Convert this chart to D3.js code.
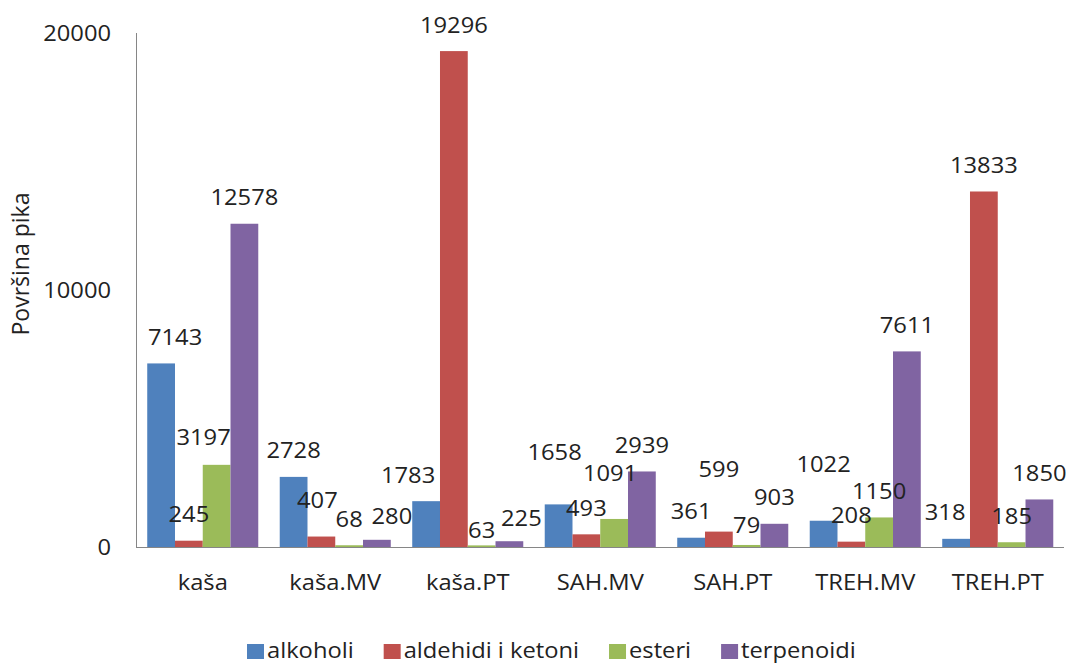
<!DOCTYPE html>
<html>
<head>
<meta charset="utf-8">
<script src="https://cdn.jsdelivr.net/npm/d3@7"></script>
<style>
  body { margin: 0; background: #fff; }
  svg text { font-family: "Open Sans", sans-serif; fill: #222; }
</style>
</head>
<body>
<svg id="chart" width="1070" height="665"></svg>
<script>
const categories = ["kaša", "kaša.MV", "kaša.PT", "SAH.MV", "SAH.PT", "TREH.MV", "TREH.PT"];
const seriesNames = ["alkoholi", "aldehidi i ketoni", "esteri", "terpenoidi"];
const alkoholi = [7143, 2728, 1783, 1658, 361, 1022, 318];
const aldehidiKetoni = [245, 407, 19296, 493, 599, 208, 13833];
const esteri = [3197, 68, 63, 1091, 79, 1150, 185];
const terpenoidi = [12578, 280, 225, 2939, 903, 7611, 1850];
const yTicks = [0, 10000, 20000];
const colors = ["#4F81BD", "#C0504D", "#9BBB59", "#8064A2"];

// hand placed data labels in the original (dx, dy in px)
const labelNudge = {
  "kaša|alkoholi": [14, 0], "kaša|esteri": [-13, -1],
  "kaša.MV|aldehidi i ketoni": [-4, -10], "kaša.MV|terpenoidi": [15, 3],
  "kaša.PT|alkoholi": [-18, 0], "kaša.PT|esteri": [0, 11], "kaša.PT|terpenoidi": [12, 3],
  "SAH.MV|alkoholi": [-4, -26], "SAH.MV|esteri": [-4, -19],
  "SAH.PT|aldehidi i ketoni": [0, -36], "SAH.PT|esteri": [0, 7],
  "TREH.MV|alkoholi": [0, -30], "TREH.PT|alkoholi": [-11, 0]
};

const seriesValues = [alkoholi, aldehidiKetoni, esteri, terpenoidi];
const rows = [];
categories.forEach((c, i) => {
  seriesNames.forEach((s, j) => rows.push({ cat: c, series: s, value: seriesValues[j][i], color: colors[j] }));
});

const SX = 1.13;      // text is a bit wide in the original
const FS = 21;
const svg = d3.select("#chart");

const x0 = d3.scaleBand().domain(categories).range([136.5, 1064]).paddingInner(0.162).paddingOuter(0.081);
const x1 = d3.scaleBand().domain(seriesNames).range([0, x0.bandwidth()]);
const y = d3.scaleLinear().domain([0, 20000]).range([547, 33]);

function putText(sel, tx, ty) {
  sel.attr("transform", d => `translate(${tx(d)},${ty(d)}) scale(${SX},1)`)
    .style("font-size", FS + "px");
}

// bars
svg.append("g")
  .selectAll("rect")
  .data(rows)
  .join("rect")
  .attr("x", d => x0(d.cat) + x1(d.series))
  .attr("width", x1.bandwidth())
  .attr("y", d => y(d.value))
  .attr("height", d => y(0) - y(d.value))
  .attr("fill", d => d.color);

// axes lines
svg.append("line")
  .attr("x1", 136.5).attr("x2", 136.5).attr("y1", y(20000)).attr("y2", y(0))
  .attr("stroke", "#868686");
svg.append("line")
  .attr("x1", 136).attr("x2", 1064).attr("y1", y(0) + 0.5).attr("y2", y(0) + 0.5)
  .attr("stroke", "#868686");

// y tick labels
svg.append("g")
  .selectAll("text")
  .data(yTicks)
  .join("text")
  .attr("text-anchor", "end")
  .text(d => d)
  .call(putText, () => 111, d => y(d) + 8);

// category labels
svg.append("g")
  .selectAll("text")
  .data(categories)
  .join("text")
  .attr("text-anchor", "middle")
  .text(d => d)
  .call(putText, d => x0(d) + x0.bandwidth() / 2, () => 590);

// data labels
svg.append("g")
  .selectAll("text")
  .data(rows)
  .join("text")
  .attr("text-anchor", "middle")
  .text(d => d.value)
  .call(putText,
    d => x0(d.cat) + x1(d.series) + x1.bandwidth() / 2 + (labelNudge[d.cat + "|" + d.series] || [0, 0])[0],
    d => y(d.value) - 26 + 7.5 + (labelNudge[d.cat + "|" + d.series] || [0, 0])[1]);

// y axis title
svg.append("text")
  .attr("text-anchor", "middle")
  .attr("transform", "translate(29,264) rotate(-90)")
  .style("font-size", "23px")
  .text("Površina pika");

// legend
const legend = svg.append("g");
let lx = 247;
seriesNames.forEach((s, j) => {
  legend.append("rect")
    .attr("x", lx).attr("y", 644).attr("width", 17).attr("height", 15)
    .attr("fill", colors[j]);
  const t = legend.append("text")
    .datum(s)
    .text(s)
    .call(putText, () => lx + 20, () => 658);
  lx += 20 + t.node().getComputedTextLength() * SX + 30;
});
</script>
</body>
</html>
